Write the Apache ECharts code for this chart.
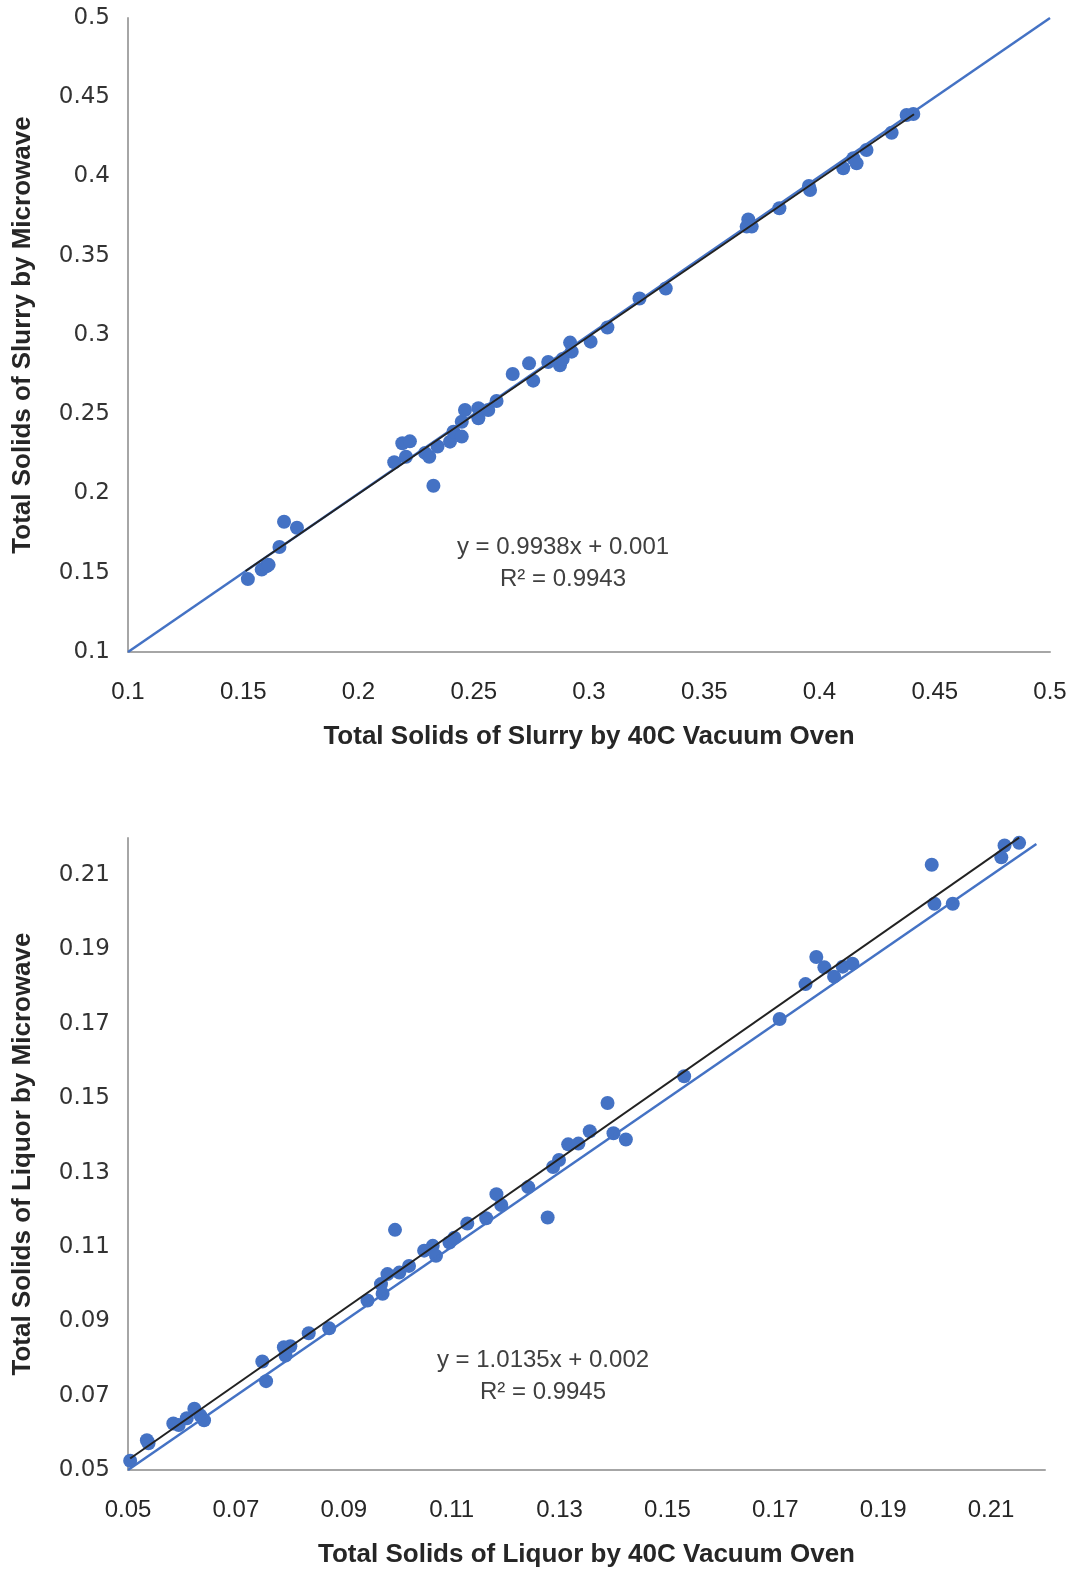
<!DOCTYPE html>
<html>
<head>
<meta charset="utf-8">
<script src="https://cdn.jsdelivr.net/npm/echarts@6/dist/echarts.min.js"></script>
<style>
  html, body { margin: 0; padding: 0; background: #fff; }
  #main { width: 1077px; height: 1569px; }
</style>
</head>
<body>
<div id="main"></div>
<script>
// Slurry: 40C vacuum oven (x) vs microwave (y)
var slurryPoints = [
  [0.152,0.146],[0.158,0.152],[0.160,0.154],[0.161,0.155],[0.1657,0.1662],[0.1677,0.1822],[0.1733,0.1784],
  [0.2155,0.2197],[0.219,0.2317],[0.2223,0.2329],[0.2206,0.2232],[0.2289,0.2256],[0.2307,0.2232],
  [0.2325,0.2049],[0.2343,0.2297],[0.2397,0.2327],[0.2412,0.2390],[0.2448,0.2359],[0.2448,0.2453],
  [0.2462,0.2527],[0.252,0.2538],[0.252,0.2475],[0.2563,0.2527],[0.2599,0.2584],[0.2669,0.2754],
  [0.274,0.2821],[0.2758,0.2712],[0.2823,0.2830],[0.2874,0.2809],[0.2886,0.2849],[0.2918,0.2952],
  [0.2925,0.2895],[0.3007,0.2958],[0.3080,0.3047],[0.3219,0.3230],[0.3333,0.3293],
  [0.3691,0.3729],[0.3684,0.3684],[0.3706,0.3684],[0.3826,0.3800],[0.3954,0.3940],[0.3959,0.3915],
  [0.4103,0.4052],[0.4147,0.4115],[0.4161,0.4083],[0.4204,0.4167],[0.4313,0.4276],[0.4378,0.4388],[0.4407,0.4394]
];
var slurryOneToOne = [[0.1,0.1],[0.5,0.5]];
var slurryTrend = [[0.151,0.1511],[0.441,0.4393]];
var slurryTicks = [0.1,0.15,0.2,0.25,0.3,0.35,0.4,0.45,0.5];

// Liquor: 40C vacuum oven (x) vs microwave (y)
var liquorPoints = [
  [0.0504,0.0525],[0.0535,0.0580],[0.0538,0.0572],[0.0584,0.0625],[0.0594,0.0621],[0.0609,0.0639],
  [0.0623,0.0665],[0.0634,0.0647],[0.0641,0.0634],[0.0749,0.0792],[0.0756,0.0739],[0.0789,0.0830],
  [0.0801,0.0833],[0.0792,0.0808],[0.0835,0.0868],[0.0873,0.0881],[0.0944,0.0956],[0.0969,0.1000],
  [0.0972,0.0974],[0.0981,0.1027],[0.1003,0.1031],[0.0995,0.1146],[0.1021,0.1049],[0.1049,0.1090],
  [0.1065,0.1103],[0.1071,0.1076],[0.1096,0.1112],[0.1105,0.1125],[0.1129,0.1163],[0.1164,0.1177],
  [0.1183,0.1242],[0.1192,0.1213],[0.1242,0.1261],[0.1278,0.1179],[0.1288,0.1315],[0.1299,0.1334],
  [0.1316,0.1376],[0.1335,0.1378],[0.1356,0.1411],[0.1389,0.1487],[0.1400,0.1406],[0.1423,0.1389],
  [0.1531,0.1559],[0.1708,0.1713],[0.1756,0.1807],[0.1776,0.1880],[0.1791,0.1852],[0.1809,0.1827],
  [0.1825,0.1854],[0.1843,0.1862],[0.1990,0.2128],[0.1995,0.2023],[0.2029,0.2023],[0.2119,0.2148],
  [0.2125,0.2180],[0.2152,0.2187]
];
var liquorOneToOne = [[0.05,0.05],[0.2184,0.2184]];
var liquorTrend = [[0.0504,0.0531],[0.2152,0.2201]];
var liquorTicks = [0.05,0.07,0.09,0.11,0.13,0.15,0.17,0.19,0.21];

var blue = '#4472C4';
var sans = '"Liberation Sans Narrow", "Liberation Sans", Arial, sans-serif';

function xAxisFor(idx, min, max, ticks, name) {
  return {
    type: 'value', gridIndex: idx, min: min, max: max,
    name: name, nameLocation: 'middle', nameGap: 72,
    nameTextStyle: { fontFamily: sans, fontWeight: 'bold', fontSize: 26, color: '#262626' },
    axisLine: { lineStyle: { color: '#a6a6a6', width: 2 } },
    axisTick: { show: false },
    splitLine: { show: false },
    axisLabel: {
      customValues: ticks, margin: 28, fontFamily: sans, fontSize: 24, color: '#262626',
      formatter: function (v) { return String(+v.toFixed(2)); }
    }
  };
}
function yAxisFor(idx, min, max, ticks, name) {
  return {
    type: 'value', gridIndex: idx, min: min, max: max,
    name: name, nameLocation: 'middle', nameGap: 92,
    nameTextStyle: { fontFamily: sans, fontWeight: 'bold', fontSize: 26, color: '#262626' },
    axisLine: { show: true, lineStyle: { color: '#a6a6a6', width: 2 } },
    axisTick: { show: false },
    splitLine: { show: false },
    axisLabel: {
      customValues: ticks, margin: 18, fontFamily: 'DejaVu Sans', fontSize: 23, color: '#333333',
      formatter: function (v) { return String(+v.toFixed(2)); }
    }
  };
}

var myChart = echarts.init(document.getElementById('main'));
myChart.setOption({
  animation: false,
  grid: [
    { left: 128, top: 18, width: 922, height: 634 },
    { left: 128, top: 838, width: 917, height: 632 }
  ],
  xAxis: [
    xAxisFor(0, 0.1, 0.5, slurryTicks, 'Total Solids of Slurry by 40C Vacuum Oven'),
    xAxisFor(1, 0.05, 0.22, liquorTicks, 'Total Solids of Liquor by 40C Vacuum Oven')
  ],
  yAxis: [
    yAxisFor(0, 0.1, 0.5, slurryTicks, 'Total Solids of Slurry by Microwave'),
    yAxisFor(1, 0.05, 0.22, liquorTicks, 'Total Solids of Liquor by Microwave')
  ],
  series: [
    { type: 'scatter', xAxisIndex: 0, yAxisIndex: 0, data: slurryPoints, symbolSize: 14, itemStyle: { color: blue, opacity: 1 } },
    { type: 'line', xAxisIndex: 0, yAxisIndex: 0, data: slurryOneToOne, symbol: 'none', lineStyle: { color: blue, width: 2.5 }, z: 3 },
    { type: 'line', xAxisIndex: 0, yAxisIndex: 0, data: slurryTrend, symbol: 'none', lineStyle: { color: '#222', width: 2 }, z: 4 },
    { type: 'scatter', xAxisIndex: 1, yAxisIndex: 1, data: liquorPoints, symbolSize: 14, itemStyle: { color: blue, opacity: 1 } },
    { type: 'line', xAxisIndex: 1, yAxisIndex: 1, data: liquorOneToOne, symbol: 'none', lineStyle: { color: blue, width: 2.5 }, z: 3 },
    { type: 'line', xAxisIndex: 1, yAxisIndex: 1, data: liquorTrend, symbol: 'none', lineStyle: { color: '#222', width: 2 }, z: 4 }
  ],
  // trendline equations, as Excel prints them
  graphic: [
    { type: 'text', x: 563, y: 547, style: { text: 'y = 0.9938x + 0.001', font: '24px ' + sans, fill: '#404040', align: 'center', verticalAlign: 'middle' } },
    { type: 'text', x: 563, y: 579, style: { text: 'R² = 0.9943', font: '24px ' + sans, fill: '#404040', align: 'center', verticalAlign: 'middle' } },
    { type: 'text', x: 543, y: 1360, style: { text: 'y = 1.0135x + 0.002', font: '24px ' + sans, fill: '#404040', align: 'center', verticalAlign: 'middle' } },
    { type: 'text', x: 543, y: 1392, style: { text: 'R² = 0.9945', font: '24px ' + sans, fill: '#404040', align: 'center', verticalAlign: 'middle' } }
  ]
});
</script>
</body>
</html>
